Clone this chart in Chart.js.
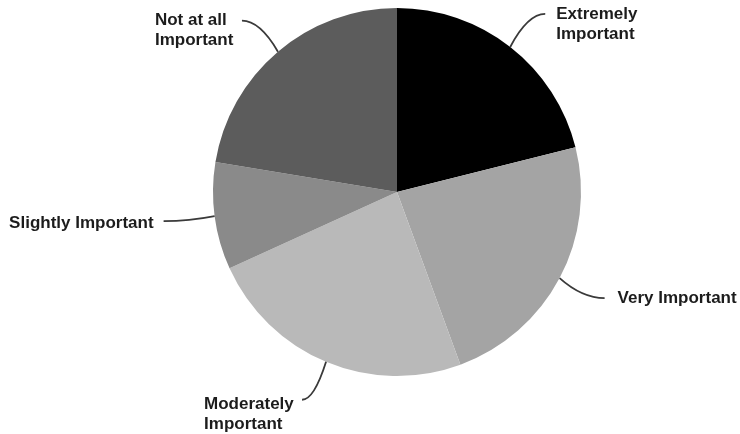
<!DOCTYPE html>
<html>
<head>
<meta charset="utf-8">
<script src="https://cdn.jsdelivr.net/npm/chart.js@4/dist/chart.umd.min.js"></script>
<style>
  html, body { margin: 0; padding: 0; background: #fff; }
  #wrap { width: 740px; height: 434px; }
</style>
</head>
<body>
<div id="wrap"><canvas id="pieChart" width="740" height="434"></canvas></div>
<script>
// Data (share of responses)
const categories = ['Extremely Important', 'Very Important', 'Moderately Important', 'Slightly Important', 'Not at all Important'];
const labelLines = [['Extremely', 'Important'], ['Very Important'], ['Moderately', 'Important'], ['Slightly Important'], ['Not at all', 'Important']];
const shares = [21.1, 23.3, 23.8, 9.4, 22.4];
const sliceColors = ['#000000', '#a4a4a4', '#b9b9b9', '#8a8a8a', '#5c5c5c'];

// Leader line end (relative to slice edge midpoint) and text placement (relative to line end)
const leaderEnds = [[35, -33], [45, 20], [-24, 38], [-51, 5], [-36, -31]];
const textSpots = [
  { dx: 11, dy: 0, align: 'left' },
  { dx: 13, dy: 0, align: 'left' },
  { dx: -98, dy: 5, align: 'left' },
  { dx: -10, dy: 2, align: 'right' },
  { dx: -87, dy: 0, align: 'left' }
];

const calloutPlugin = {
  id: 'callouts',
  afterDatasetsDraw(chart) {
    const c = chart.ctx;
    const arcs = chart.getDatasetMeta(0).data;
    c.save();
    arcs.forEach((arc, i) => {
      const p = arc.getProps(['x', 'y', 'startAngle', 'endAngle', 'outerRadius'], true);
      const mid = (p.startAngle + p.endAngle) / 2;
      const x0 = p.x + Math.cos(mid) * p.outerRadius;
      const y0 = p.y + Math.sin(mid) * p.outerRadius;
      const x2 = x0 + leaderEnds[i][0];
      const y2 = y0 + leaderEnds[i][1];
      const cx = x0 + (x2 - x0) * 0.5;
      const cy = y2;

      c.beginPath();
      c.moveTo(x0, y0);
      c.quadraticCurveTo(cx, cy, x2, y2);
      c.strokeStyle = '#3a3a3a';
      c.lineWidth = 1.8;
      c.stroke();

      const t = textSpots[i];
      c.font = 'bold 17px "Liberation Sans", Arial, sans-serif';
      c.fillStyle = '#1c1c1c';
      c.textAlign = t.align;
      c.textBaseline = 'middle';
      labelLines[i].forEach((line, k) => {
        c.fillText(line, x2 + t.dx, y2 + t.dy + k * 20);
      });
    });
    c.restore();
  }
};

new Chart(document.getElementById('pieChart').getContext('2d'), {
  type: 'pie',
  data: {
    labels: categories,
    datasets: [{
      data: shares,
      backgroundColor: sliceColors,
      borderWidth: 0
    }]
  },
  options: {
    responsive: false,
    animation: false,
    layout: { padding: { top: 8, bottom: 58, left: 54, right: 0 } },
    plugins: {
      legend: { display: false },
      tooltip: { enabled: false }
    }
  },
  plugins: [calloutPlugin]
});
</script>
</body>
</html>
